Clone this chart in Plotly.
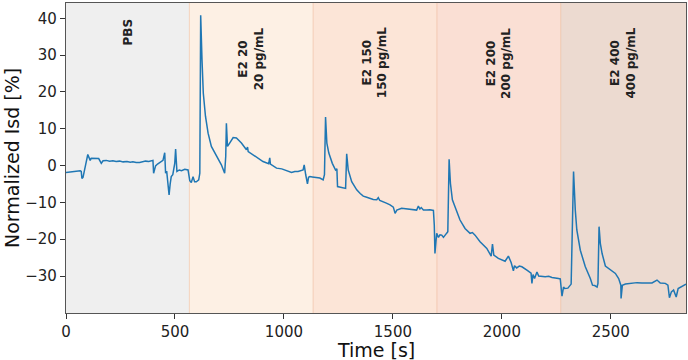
import plotly.graph_objects as go

# ---- data ----
time_s = [0, 31, 65, 70, 73, 78, 86, 90, 100, 106, 111, 116, 120, 135, 150, 162, 170, 185, 200, 215,
          230, 246, 262, 280, 295, 307, 322, 338, 350, 365, 380, 399, 402, 411, 420, 430, 445, 453, 457, 462,
          466, 473, 478, 483, 490, 495, 499, 503, 509, 520, 530, 545, 560, 568, 575, 583, 590, 598, 609, 614,
          618, 624, 630, 640, 652, 667, 690, 713, 728, 733, 736, 741, 751, 767, 782, 805, 828, 833, 836, 866,
          885, 904, 930, 935, 938, 966, 990, 1004, 1020, 1035, 1050, 1065, 1088, 1093, 1100, 1108, 1113, 1119, 1130, 1142,
          1165, 1180, 1186, 1191, 1197, 1206, 1222, 1237, 1243, 1246, 1265, 1283, 1288, 1295, 1311, 1334, 1350, 1364, 1380, 1395,
          1410, 1426, 1433, 1440, 1456, 1470, 1487, 1502, 1510, 1518, 1540, 1560, 1586, 1609, 1617, 1624, 1630, 1640, 1655, 1670,
          1686, 1690, 1693, 1701, 1709, 1716, 1724, 1732, 1745, 1752, 1758, 1764, 1773, 1789, 1808, 1831, 1854, 1865, 1877, 1900,
          1931, 1951, 1957, 1963, 1984, 2015, 2030, 2043, 2053, 2058, 2068, 2080, 2092, 2115, 2134, 2138, 2143, 2150, 2155, 2161,
          2169, 2184, 2199, 2215, 2230, 2260, 2268, 2276, 2283, 2288, 2303, 2318, 2329, 2337, 2344, 2360, 2383, 2406, 2416, 2426,
          2437, 2441, 2446, 2452, 2460, 2475, 2498, 2521, 2536, 2546, 2547, 2553, 2567, 2597, 2620, 2643, 2666, 2689, 2712, 2727,
          2750, 2762, 2769, 2778, 2788, 2800, 2809, 2827, 2845]
isd_pct = [-1.9, -1.6, -1.4, -1.6, -3.5, -3.2, -0.5, 0.2, 3.0, 1.8, 1.4, 2.0, 2.0, 1.8, 1.9, 0.6, 1.3, 1.4, 1.2, 1.3,
           1.1, 1.2, 1.0, 1.1, 0.9, 1.0, 0.8, 0.8, 1.0, 1.2, 1.1, 1.4, -2.1, -0.1, 0.4, 0.8, 1.4, 3.5, -2.1, -1.5,
           -3.4, -8.0, -5.0, -3.0, -2.5, -1.0, 0.6, 4.5, -1.6, -1.2, -1.4, -1.0, -1.2, -4.1, -4.6, -3.0, -4.4, -4.4, -3.9, -2.1,
           40.8, 28.8, 19.7, 13.4, 8.8, 5.2, 2.5, 0.2, -2.1, 2.5, 11.5, 5.2, 6.1, 7.6, 7.5, 6.1, 4.3, 5.0, 3.8, 2.5,
           1.8, 1.1, 0.5, 2.1, 0.4, -0.7, -0.9, -1.2, -1.6, -1.9, -1.6, -1.6, -1.2, 0.2, -2.5, -5.0, -3.2, -3.0, -3.1, -3.2,
           -3.4, -3.9, -2.5, 13.2, 6.1, 3.4, 0.6, -1.2, -0.9, -5.7, -5.9, -6.2, 3.2, -1.2, -4.4, -6.6, -7.6, -8.3, -8.6, -8.9,
           -9.2, -9.3, -8.7, -9.5, -9.8, -10.2, -10.7, -11.3, -13.0, -12.1, -11.6, -11.8, -11.9, -12.1, -11.0, -11.8, -11.4, -12.1, -12.1, -12.0,
           -12.2, -16.2, -23.9, -18.4, -19.5, -18.8, -18.9, -19.5, -18.5, -18.0, 1.7, -4.8, -9.3, -12.1, -14.8, -17.1, -18.4, -18.2, -18.9, -20.7,
           -22.5, -24.6, -21.3, -24.3, -25.2, -26.0, -24.6, -26.4, -28.6, -27.2, -27.8, -27.3, -27.5, -28.4, -29.2, -32.0, -29.6, -30.7, -29.5, -28.9,
           -30.0, -30.1, -30.2, -30.1, -30.4, -30.7, -30.8, -35.5, -33.0, -33.4, -33.3, -32.2, -1.6, -12.1, -17.5, -23.0, -27.5, -30.7, -32.5, -32.6,
           -33.0, -32.0, -16.6, -21.2, -23.9, -27.3, -28.4, -29.3, -30.7, -32.5, -36.1, -32.5, -32.2, -31.9, -31.8, -31.9, -31.8, -31.9, -31.1, -31.9,
           -32.0, -32.5, -35.9, -34.3, -33.8, -35.7, -33.4, -32.8, -32.2]

phase_labels = ["PBS", "E2 20<br>20 pg/mL", "E2 150<br>150 pg/mL", "E2 200<br>200 pg/mL", "E2 400<br>400 pg/mL"]
phase_starts = [0, 566, 1134, 1702, 2270]
phase_ends = [566, 1134, 1702, 2270, 2845]
phase_colors = ["#efefef", "#fdf0e4", "#fce5d7", "#fadfd4", "#ecdad0"]

x_title = "Time [s]"
y_title = "Normalized Isd [%]"

fig = go.Figure()

shapes = []
for s, e, c in zip(phase_starts, phase_ends, phase_colors):
    shapes.append(dict(type="rect", xref="x", yref="paper", x0=s, x1=e, y0=0, y1=1,
                       fillcolor=c, line=dict(width=0), layer="below"))
for s in phase_starts[1:]:
    shapes.append(dict(type="line", xref="x", yref="paper", x0=s, x1=s, y0=0, y1=1,
                       line=dict(color="rgba(235,170,130,0.45)", width=1), layer="below"))

annotations = []
for s, e, lab in zip(phase_starts, phase_ends, phase_labels):
    ytop = 0.957 if "<br>" not in lab else 0.927
    annotations.append(dict(x=(s + e) / 2, y=ytop, xref="x", yref="paper", text="<b>" + lab + "</b>",
                            textangle=-90, showarrow=False, xanchor="center", yanchor="top",
                            font=dict(family="DejaVu Sans", size=12, color="#222")))
annotations.append(dict(x=0.5, y=-0.118, xref="paper", yref="paper", text=x_title, showarrow=False,
                        xanchor="center", yanchor="middle",
                        font=dict(family="DejaVu Sans", size=19, color="#111")))
annotations.append(dict(x=-0.087, y=0.5, xref="paper", yref="paper", text=y_title, showarrow=False,
                        textangle=-90, xanchor="center", yanchor="middle",
                        font=dict(family="DejaVu Sans", size=19, color="#111")))

fig.add_trace(go.Scatter(x=time_s, y=isd_pct, mode="lines",
                         line=dict(color="#1f77b4", width=1.5), showlegend=False))

axis_common = dict(showgrid=False, zeroline=False, showline=True, linecolor="#555", linewidth=1.2,
                   mirror=True, ticks="outside", ticklen=5, tickwidth=1.2, tickcolor="#333",
                   automargin=False,
                   tickfont=dict(family="DejaVu Sans", size=15, color="#222"))

fig.update_layout(
    width=688, height=360,
    margin=dict(l=66, r=2, t=3, b=47),
    paper_bgcolor="white", plot_bgcolor="white",
    shapes=shapes, annotations=annotations,
    xaxis=dict(range=[0, 2845], tickvals=[0, 500, 1000, 1500, 2000, 2500], **axis_common),
    yaxis=dict(range=[-40.05, 44.15], tickvals=[-30, -20, -10, 0, 10, 20, 30, 40], **axis_common),
)

fig.write_html("out.html", config={"displayModeBar": False},
               post_script="document.body.style.margin='0';document.body.style.overflow='hidden';")
